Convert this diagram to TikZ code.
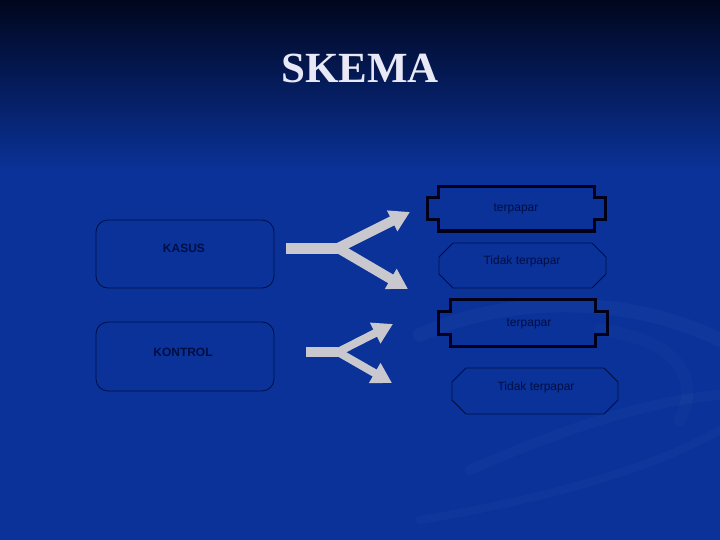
\documentclass[tikz,border=0pt]{standalone}
\usepackage{fontspec}
\setmainfont{Liberation Serif}
\setsansfont{Liberation Sans}
\usetikzlibrary{arrows.meta}
\definecolor{bgblue}{RGB}{10,50,152}
\definecolor{bgdark}{RGB}{0,6,30}
\definecolor{inkblue}{RGB}{0,14,70}
\definecolor{arrowgray}{RGB}{200,200,206}
\definecolor{titlecol}{RGB}{232,232,246}
\definecolor{swirl}{RGB}{120,150,220}
\tikzset{
  roundbox/.style={draw=inkblue, line width=0.8pt, rounded corners=12pt},
  notchbox/.style={draw=black!90!blue, line width=3pt, line join=miter},
  octbox/.style={draw=inkblue, line width=0.8pt},
  lbl/.style={font=\sffamily\fontsize{12}{14}\selectfont, text=inkblue},
  blbl/.style={font=\sffamily\bfseries\fontsize{12}{14}\selectfont, text=inkblue},
  fork/.style={draw=arrowgray, line width=#1, -{Triangle[length=20pt,width=22pt]}},
  bar/.style={draw=arrowgray, line width=#1}
}
\newcommand{\notchpath}[5]{% x0 y0 x1 y1 n
  (#1+#5,#2) -- (#3-#5,#2) -- (#3-#5,#2+#5) -- (#3,#2+#5) -- (#3,#4-#5) -- (#3-#5,#4-#5) -- (#3-#5,#4) -- (#1+#5,#4) -- (#1+#5,#4-#5) -- (#1,#4-#5) -- (#1,#2+#5) -- (#1+#5,#2+#5) -- cycle}
\newcommand{\octpath}[5]{%
  (#1+#5,#2) -- (#3-#5,#2) -- (#3,#2+#5) -- (#3,#4-#5) -- (#3-#5,#4) -- (#1+#5,#4) -- (#1,#4-#5) -- (#1,#2+#5) -- cycle}
\begin{document}
\begin{tikzpicture}[x=1pt,y=-1pt]
\useasboundingbox (0,0) rectangle (720,540);
% background
\fill[bgblue] (0,0) rectangle (720,540);
\shade[top color=bgdark, bottom color=bgblue] (0,0) rectangle (720,170);
% faint swirls
\begin{scope}[line cap=round]
\draw[swirl, opacity=0.06, line width=14pt] (420,335) .. controls (520,290) and (640,300) .. (720,340);
\draw[swirl, opacity=0.05, line width=10pt] (470,470) .. controls (560,430) and (650,400) .. (720,395);
\draw[swirl, opacity=0.05, line width=8pt] (420,520) .. controls (540,500) and (650,470) .. (720,430);
\draw[swirl, opacity=0.04, line width=12pt] (600,330) .. controls (680,340) and (700,380) .. (680,420);
\end{scope}
% title
\node[font=\bfseries\fontsize{43}{50}\selectfont, text=titlecol] (title) at (360,68) {SKEMA};
% left boxes
\draw[roundbox] (96,220) rectangle (274,288);
\node[blbl] (kasus) at (184,248) {KASUS};
\draw[roundbox] (96,322) rectangle (274,391);
\node[blbl] (kontrol) at (183,352) {KONTROL};
% right boxes
\draw[notchbox] \notchpath{427}{187}{605}{231}{11};
\node[lbl] (t1) at (516,209) {terpapar};
\draw[octbox] \octpath{439}{243}{606}{288}{14};
\node[lbl] (nt1) at (522,261) {Tidak terpapar};
\draw[notchbox] \notchpath{438}{299}{607}{346}{12};
\node[lbl] (t2) at (529,324) {terpapar};
\draw[octbox] \octpath{452}{368}{618}{414}{14};
\node[lbl] (nt2) at (536,387) {Tidak terpapar};
% fork arrows
\coordinate (a1s) at (286,248);
\coordinate (a1f) at (338,248);
\coordinate (a1u) at (410,212);
\coordinate (a1d) at (408,289);
\draw[bar=11pt] (a1s) -- (a1f);
\draw[fork=10pt] (a1f) -- (a1u);
\draw[fork=10pt] (a1f) -- (a1d);
\coordinate (a2s) at (306,352);
\coordinate (a2f) at (338,352);
\coordinate (a2u) at (393,324);
\coordinate (a2d) at (392,383);
\draw[bar=10pt] (a2s) -- (a2f);
\draw[fork=8pt] (a2f) -- (a2u);
\draw[fork=8pt] (a2f) -- (a2d);
\end{tikzpicture}
\end{document}
